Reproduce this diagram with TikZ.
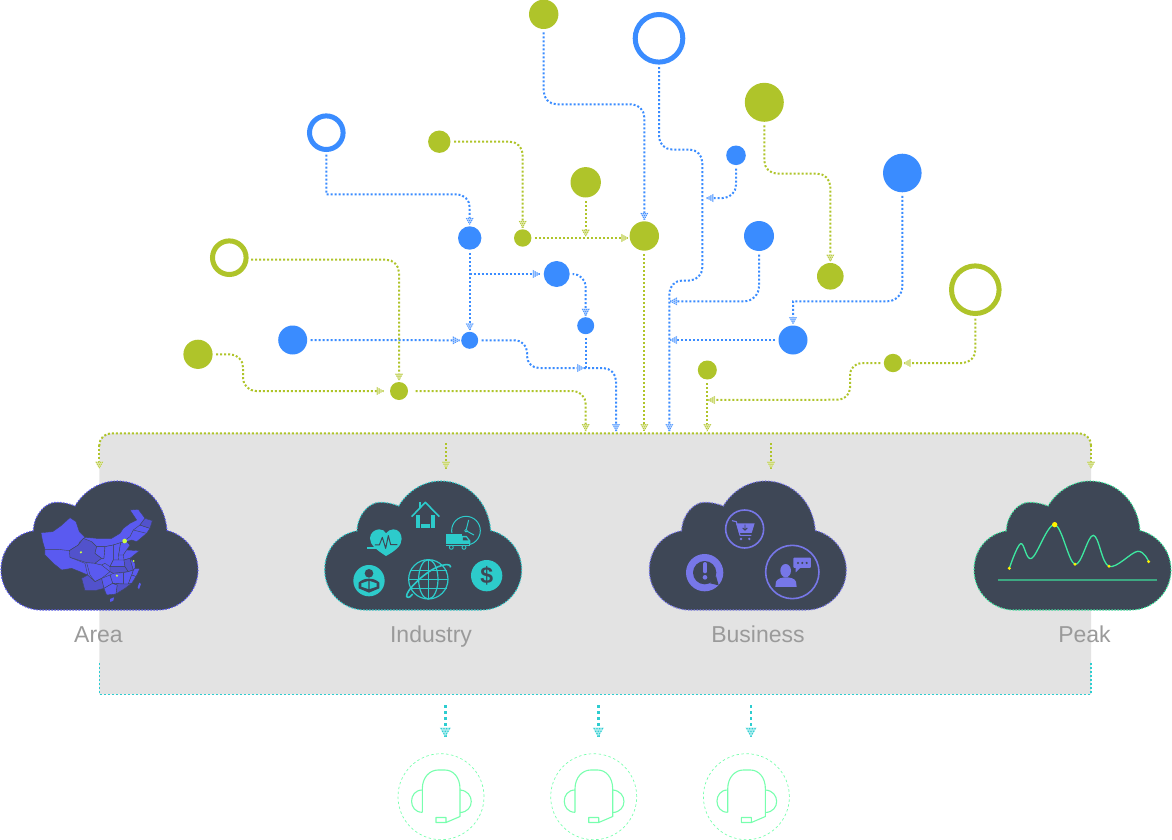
\documentclass[tikz,border=0pt]{standalone}
\usepackage{fontspec}
\setmainfont{Liberation Sans}
\usetikzlibrary{arrows}
\definecolor{cblue}{HTML}{3A8CFF}
\definecolor{cgreen}{HTML}{AFC42A}
\definecolor{cteal}{HTML}{2DCDD0}
\definecolor{tblue}{HTML}{B4D2FF}
\definecolor{tgreen}{HTML}{E0E8A8}
\definecolor{tteal}{HTML}{A8ECEE}
\definecolor{cdark}{HTML}{3E4756}
\definecolor{cgrey}{HTML}{E3E3E3}
\definecolor{clab}{HTML}{9A9A9A}
\definecolor{cind}{HTML}{2DCBCB}
\definecolor{cbiz}{HTML}{7777E8}
\definecolor{cpeak}{HTML}{3DE8A0}
\definecolor{cmap}{HTML}{5A5AF0}
\definecolor{cmapd}{HTML}{5252CC}
\definecolor{cmint}{HTML}{78FFAE}
\definecolor{cyell}{HTML}{CCFF44}
\newcommand\tipdot[2]{\pgfpathcircle{\pgfpoint{#1pt}{#2pt}}{.6pt}}
\newcommand\mktip[4]{%
  \pgfarrowsdeclare{#1}{#1}{\pgfarrowsleftextend{-7pt}\pgfarrowsrightextend{0pt}}{%
    \pgftransformscale{#4}%
    \pgfsetfillcolor{#3}%
    \pgfpathmoveto{\pgfpoint{0pt}{0pt}}\pgfpathlineto{\pgfpoint{-7pt}{4.2pt}}\pgfpathlineto{\pgfpoint{-7pt}{-4.2pt}}\pgfpathclose\pgfusepathqfill
    \pgfsetfillcolor{#2}%
    \tipdot{-6.2}{-3}\tipdot{-6.2}{-1}\tipdot{-6.2}{1}\tipdot{-6.2}{3}%
    \tipdot{-4.2}{-2}\tipdot{-4.2}{0}\tipdot{-4.2}{2}%
    \tipdot{-2.4}{-1}\tipdot{-2.4}{1}%
    \tipdot{-.7}{0}%
    \pgfusepathqfill}}
\mktip{dtb}{cblue}{tblue}{1}
\mktip{dtg}{cgreen}{tgreen}{1}
\mktip{dtt}{cteal}{tteal}{1.35}
\newcommand\cloudblob[2]{%
  \begin{scope}[shift={(#1,0)}]
  \filldraw[fill=cdark,draw=#2,line width=1.1pt,dash pattern=on 1.5pt off 1.5pt]
    (41,610) .. controls (19,610) and (1,592) .. (1,570)
    .. controls (1,549) and (15,534) .. (33.3,530.8)
    .. controls (34,514) and (46,502.3) .. (56,502.3)
    .. controls (64,502.3) and (70,504) .. (75,506)
    .. controls (84,491) and (100,481) .. (117,481)
    .. controls (145,481) and (165,503) .. (167,530.5)
    .. controls (185,535) and (198,551) .. (198,570)
    .. controls (198,592) and (180,610) .. (158,610) -- cycle;
  \end{scope}}
\newcommand\headset[2]{%
  \node[hsring] (#2) at (#1,796.7) {};
  \begin{scope}[shift={(#1-441,0)}]
  \draw[hsline] (422.3,812.3) -- (422.3,789) .. controls (422.3,777) and (430,770) .. (438,770)
     -- (445,770) .. controls (453,770) and (460,777) .. (460,789) -- (460,816.5) -- (446,822.5) -- (436,822.5) -- (436,817.5) -- (446,817.5) -- (446,822.5);
  \draw[hsline] (422.3,790) .. controls (408,790) and (408,812.3) .. (422.3,812.3);
  \draw[hsline] (460,790) .. controls (475,791) and (475,812) .. (460,812.5);
  \end{scope}}
\tikzset{
  blob/.style={circle,inner sep=0pt,outer sep=1.5pt,minimum size=#1},
  bd/.style={blob=#1,fill=cblue},
  gd/.style={blob=#1,fill=cgreen},
  br/.style={blob=#1,draw=cblue,line width=5pt,outer sep=3pt},
  gr/.style={blob=#1,draw=cgreen,line width=5pt,outer sep=3pt},
  wire/.style={line width=2pt,dash pattern=on 2pt off 2pt,rounded corners=13pt},
  bwire/.style={wire,draw=cblue},
  gwire/.style={wire,draw=cgreen},
  bw/.style={bwire,shorten <=2pt,-dtb},
  gw/.style={gwire,shorten <=2pt,-dtg},
  tw/.style={line width=2.6pt,draw=cteal,dash pattern=on 2.6pt off 3.4pt,-dtt},
  hsring/.style={circle,inner sep=0pt,minimum size=86pt,draw=cmint,line width=.7pt,dash pattern=on 2.5pt off 2.5pt},
  hsline/.style={draw=cmint,line width=1.1pt,line join=round},
  lab/.style={anchor=base,text=clab,font=\fontsize{23}{23}\selectfont},
  prov/.style={fill=cmap,draw=cdark,line width=.4pt,line join=round},
  provd/.style={fill=cmapd,draw=cdark,line width=.4pt,line join=round},
}
\begin{document}
\begin{tikzpicture}[x=1pt,y=-1pt]
\useasboundingbox (0,0) rectangle (1172,840);
% grey panel
\fill[cgrey] (99.3,694.3) -- (99.3,446) .. controls (99.3,438) and (104,433.3) .. (112,433.3)
  -- (1078,433.3) .. controls (1086,433.3) and (1091,438) .. (1091,446) -- (1091,694.3) -- cycle;
% circles
\node[gd=29.4pt] (a1) at (543.7,14.3) {};
\node[br=47.6pt] (a2) at (659,38.3) {};
\node[gd=39pt] (a3) at (764.3,102.3) {};
\node[br=33.6pt] (a4) at (326.3,132.7) {};
\node[gd=22.4pt] (a5) at (439.3,141.7) {};
\node[bd=19.6pt] (a6) at (736,155.3) {};
\node[bd=38.6pt] (a7) at (902.3,173) {};
\node[gd=30.4pt] (a8) at (585.7,182.3) {};
\node[gd=29.4pt] (hub) at (644.3,236) {};
\node[gd=17.4pt] (a10) at (522.7,238) {};
\node[bd=23.4pt] (a11) at (469.7,238) {};
\node[bd=30pt] (a12) at (759,236) {};
\node[gr=33.6pt] (a13) at (229.3,257.7) {};
\node[gd=26.6pt] (a14) at (830.3,276.3) {};
\node[gr=47.6pt] (a15) at (975.3,289.7) {};
\node[bd=26pt] (a16) at (556.7,274) {};
\node[bd=17pt] (a17) at (585.7,325.7) {};
\node[bd=29pt] (a18) at (292.7,340) {};
\node[bd=17pt] (a19) at (469.7,340.3) {};
\node[bd=29pt] (a20) at (793,340) {};
\node[gd=29.2pt] (a21) at (198,354.3) {};
\node[gd=18.4pt] (a22) at (893,363) {};
\node[gd=19pt] (a23) at (707.3,370) {};
\node[gd=18pt] (a24) at (399,391) {};
% free ends
\coordinate (trunkA) at (669.3,431);
\coordinate (ldA) at (616,431);
\coordinate (ldB) at (585.7,431);
\coordinate (ldC) at (644.3,431);
\coordinate (ldD) at (707.3,431);
\coordinate (tap1) at (706.5,198);
\coordinate (tap2) at (670,301.3);
\coordinate (tap3) at (670,340);
\coordinate (tap4) at (708,400);
\coordinate (tap5) at (585.7,236.5);
\coordinate (fork) at (469.7,274);
\coordinate (merge) at (584,368);
\coordinate (busL) at (99.3,468.5);
\coordinate (busR) at (1091,468.5);
% blue wires
\draw[bw] (a1.south) -- (a1.south |- 0,104.3) -- (hub.north |- 0,104.3) -- (hub.north);
\draw[bw] (a2.south) -- (a2.south |- 0,149.5) -- (702.3,149.5) -- (702.3,280.5) -- (669.3,280.5) -- (trunkA);
\draw[bw] (a6.south) -- (a6.south |- tap1) -- (tap1);
\draw[bw,rounded corners=15pt] (a7.south) -- (a7.south |- 0,301.3) [sharp corners] -- (a20.north |- 0,301.3) -- (a20.north);
\draw[bw,rounded corners=15pt] (a12.south) -- (a12.south |- tap2) -- (tap2);
\draw[bw] (a20.west) -- (tap3);
\draw[bw,sharp corners] (a4.south) -- (a4.south |- 0,194.3) [rounded corners=13pt] -- (a11.north |- 0,194.3) -- (a11.north);
\draw[bw] (a11.south) -- (a19.north);
\draw[bw,shorten <=0pt,shorten >=2.5pt] (fork) -- (a16.west);
\draw[bw] (a16.east) -- (a17.north |- a16.east) -- (a17.north);
\draw[bwire,shorten <=2pt] (a17.south) -- (a17.south |- merge);
\draw[bw,rounded corners=12pt] (a19.east) -- (527,340.3) -- (527,368) -- (merge);
\draw[bwire,-dtb] (merge) -- (ldA |- merge) -- (ldA);
\draw[bw] (a18.east) -- (a19.west);
% green wires
\draw[gw] (a3.south) -- (a3.south |- 0,173.7) -- (a14.north |- 0,173.7) -- (a14.north);
\draw[gw] (a15.south) -- (a15.south |- a22) -- (a22.east);
\draw[gw,rounded corners=12pt] (a22.west) -- (850,363) -- (850,399.7) -- (tap4);
\draw[gw] (a23.south) -- (ldD);
\draw[gw] (hub.south) -- (ldC);
\draw[gw] (a5.east) -- (a10.north |- a5.east) -- (a10.north);
\draw[gw] (a8.south) -- (tap5);
\draw[gw] (a10.east) -- (a10.east -| hub.west);
\draw[gw] (a13.east |- 0,259.7) -- (a24.north |- 0,259.7) -- (a24.north);
\draw[gw,shorten >=5pt] (a21.east) -- (243,354.3) -- (243,391) -- (a24.west);
\draw[gw,shorten <=6pt] (a24.east) -- (ldB |- a24.east) -- (ldB);
% bus along top of panel
\draw[gwire,-dtg] (99.3,445) -- (busL);
\draw[gwire,rounded corners=12pt] (99.3,446) -- (99.3,433.3) -- (1091,433.3) -- (1091,446);
\draw[gwire,-dtg] (1091,445) -- (busR);
\coordinate (s1) at (446,443); \coordinate (e1) at (446,468.5);
\coordinate (s2) at (771,443); \coordinate (e2) at (771,468.5);
\draw[gwire,-dtg] (s1) -- (e1);
\draw[gwire,-dtg] (s2) -- (e2);
% lower dashed frame
\draw[cteal,line width=1.4pt,dash pattern=on 2pt off 2pt] (99.3,663) -- (99.3,694.3) -- (1091,694.3) -- (1091,663);
% clouds
\cloudblob{0}{cmap}
\cloudblob{323.7}{cind}
\cloudblob{648.3}{cbiz}
\cloudblob{973}{cpeak}
% labels
\node[lab] (lArea) at (98.5,642) {Area};
\node[lab] (lInd) at (431,642) {Industry};
\node[lab] (lBiz) at (758,642) {Business};
\node[lab] (lPeak) at (1084.5,642) {Peak};
% map of Area cloud
\begin{scope}[shift={(30,500)},x=.3333pt,y=-.3333pt]
\path[prov] (33,98) -- (68,95) -- (92,78) -- (120,53) -- (138,65) -- (148,95) -- (165,112) -- (200,115) -- (245,115) -- (270,100) -- (280,85) -- (300,70) -- (320,60) -- (300,30) -- (325,28) -- (345,55) -- (367,62) -- (360,85) -- (350,100) -- (320,125) -- (305,120) -- (290,125) -- (300,135) -- (290,150) -- (328,152) -- (300,175) -- (315,190) -- (315,205) -- (330,205) -- (318,230) -- (305,250) -- (285,265) -- (258,282) -- (230,285) -- (220,265) -- (195,272) -- (165,272) -- (155,235) -- (173,225) -- (150,215) -- (125,205) -- (95,210) -- (70,190) -- (45,165) -- (45,148) -- (38,125) -- cycle;
\draw[cdark,line width=.4pt,line join=round] (45,148) -- (85,148) -- (118,152) -- (145,135) -- (150,125) -- (165,112);
\draw[cdark,line width=.4pt,line join=round] (120,172) -- (165,190) -- (173,225);
\draw[cdark,line width=.4pt,line join=round] (200,140) -- (225,140) -- (250,135) -- (275,128) -- (300,110) -- (310,90) -- (330,75) -- (345,55);
\draw[cdark,line width=.4pt,line join=round] (310,90) -- (350,100);
\draw[cdark,line width=.4pt,line join=round] (330,75) -- (360,85);
\path[provd] (118,152) -- (145,135) -- (160,115) -- (185,125) -- (200,140) -- (195,160) -- (215,175) -- (195,190) -- (170,188) -- (120,172) -- cycle;
\path[prov] (170,188) -- (195,190) -- (215,195) -- (240,215) -- (215,235) -- (195,245) -- (180,225) -- cycle;
\path[provd] (155,235) -- (173,225) -- (195,245) -- (215,235) -- (222,265) -- (195,272) -- (165,272) -- cycle;
\path[provd] (345,55) -- (367,62) -- (360,85) -- (330,75) -- cycle;
\path[prov] (200,140) -- (225,140) -- (222,175) -- (215,175) -- (195,160) -- cycle;
\path[prov] (225,140) -- (250,135) -- (250,180) -- (240,200) -- (225,190) -- (215,195) -- (195,190) -- (215,175) -- (222,175) -- cycle;
\path[prov] (250,135) -- (272,128) -- (266,165) -- (265,180) -- (250,180) -- cycle;
\path[prov] (272,128) -- (290,125) -- (300,135) -- (290,150) -- (280,165) -- (266,165) -- cycle;
\path[prov] (280,165) -- (290,150) -- (328,152) -- (300,175) -- (282,180) -- cycle;
\path[prov] (250,180) -- (282,180) -- (285,200) -- (240,200) -- cycle;
\path[provd] (240,200) -- (285,200) -- (295,215) -- (250,220) -- (240,215) -- cycle;
\path[provd] (282,180) -- (300,175) -- (310,210) -- (295,215) -- (285,200) -- cycle;
\path[prov] (300,175) -- (315,190) -- (315,205) -- (310,210) -- cycle;
\path[prov] (310,210) -- (315,205) -- (330,205) -- (318,230) -- (305,225) -- cycle;
\path[prov] (295,215) -- (310,210) -- (305,225) -- (295,252) -- (280,252) -- (280,218) -- cycle;
\path[prov] (305,225) -- (318,230) -- (305,250) -- (295,252) -- cycle;
\path[prov] (250,220) -- (280,218) -- (280,252) -- (248,250) -- (240,225) -- cycle;
\path[prov] (215,235) -- (240,225) -- (248,250) -- (222,265) -- cycle;
\path[prov] (222,265) -- (248,250) -- (262,255) -- (258,282) -- (230,285) -- cycle;
\path[provd] (262,255) -- (248,250) -- (280,252) -- (295,252) -- (305,250) -- (285,265) -- (258,282) -- cycle;
\fill[cmap] (240,297) -- (252,292) -- (250,302) -- (241,306) -- cycle;
\fill[cmap] (328,248) -- (333,252) -- (327,268) -- (323,262) -- cycle;
\fill[cyell] (284,123) circle (7);
\fill[cyell] (153,157) circle (3.5);
\fill[cyell] (311,183) circle (3);
\fill[cyell] (261,227) circle (3.5);
\end{scope}
% Industry icons
\begin{scope}[shift={(320,440)},x=.3333pt,y=-.3333pt,line join=round]
\draw[cind,line width=1.6pt] (275,230) -- (316,187) -- (358,230);
\fill[cind] (297,187) rectangle (303,205);
\fill[cind] (289,225) rectangle (300,265);
\fill[cind] (334,225) rectangle (345,265);
\fill[cind] (303,252) rectangle (331,264);
\fill[cind] (198,348) .. controls (170,330) and (150,315) .. (150,295) .. controls (150,278) and (165,268) .. (178,268) .. controls (188,268) and (195,273) .. (198,280) .. controls (202,273) and (212,268) .. (220,268) .. controls (235,268) and (245,280) .. (245,297) .. controls (245,318) and (225,333) .. (198,348) -- cycle;
\draw[cdark,line width=1pt] (165,315) -- (178,315) -- (187,292) -- (197,325) -- (205,287) -- (212,314) -- (232,314);
\fill[cind] (142,320) rectangle (172,326);
\draw[cind,line width=1pt] (438,272) circle (43);
\fill[cdark] (372,278) rectangle (446,333);
\draw[cind,line width=1pt] (438,272) -- (446,240);
\draw[cind,line width=1pt] (438,272) -- (462,285);
\filldraw[fill=cdark,draw=cind,line width=.8pt] (438,272) circle (4);
\fill[cind] (378,282) rectangle (425,312);
\fill[cind] (425,288) -- (440,288) -- (451,302) -- (451,312) -- (425,312) -- cycle;
\fill[cdark] (429,292) -- (438,292) -- (445,301) -- (429,301) -- cycle;
\fill[cind] (378,314) rectangle (451,318);
\filldraw[fill=cdark,draw=cind,line width=.9pt] (394,322) circle (6);
\filldraw[fill=cdark,draw=cind,line width=.9pt] (432,322) circle (6);
\fill[cind] (147,422) circle (47);
\fill[cdark] (147,400) circle (13);
\fill[cdark] (116,428) .. controls (130,412) and (164,412) .. (178,428) -- (178,445) -- (147,458) -- (116,445) -- cycle;
\fill[cind] (124,430) -- (145,423) -- (145,447) -- (124,440) -- cycle;
\fill[cind] (149,423) -- (170,430) -- (170,440) -- (149,447) -- cycle;
\draw[cind,line width=1.2pt] (325,418) circle (59);
\draw[cind,line width=1.2pt] (325,418) ellipse (29 and 59);
\draw[cind,line width=1.2pt] (325,359) -- (325,477);
\draw[cind,line width=1.2pt] (270,392) -- (380,392);
\draw[cind,line width=1.2pt] (266,418) -- (384,418);
\draw[cind,line width=1.2pt] (270,445) -- (380,445);
\draw[cind,line width=1.6pt] (392,382) .. controls (392,370) and (375,372) .. (350,382) .. controls (310,400) and (255,455) .. (260,470) .. controls (265,476) and (275,468) .. (278,462);
\fill[cind] (500,407) circle (47);
\node[text=cdark,font=\fontsize{23}{23}\selectfont\bfseries,inner sep=0pt] (dollar) at (500,407) {\$};
\end{scope}
% Business icons
\begin{scope}[shift={(640,440)},x=.3333pt,y=-.3333pt,line join=round]
\draw[cbiz,line width=1.6pt] (314,267) circle (57);
\draw[cbiz,line width=1.1pt] (276,242) -- (289,245) -- (300,286) -- (334,286);
\fill[cbiz] (288,250) -- (344,250) -- (335,279) -- (297,279) -- cycle;
\draw[cdark,line width=.9pt] (315,254) -- (315,270) (308,264) -- (315,271) -- (322,264);
\fill[cbiz] (303,297) circle (4);
\fill[cbiz] (328,297) circle (4);
\fill[cbiz] (194,398) circle (56);
\fill[cdark] (194,398) circle (35);
\fill[cdark] (210,430) -- (236,436) -- (228,408) -- cycle;
\draw[cbiz,line width=4pt,line cap=round] (195,372) -- (195,394);
\fill[cbiz] (195,412) circle (7);
\draw[cbiz,line width=1.6pt] (457,396) circle (80);
\fill[cbiz] (437,392) ellipse (16 and 20);
\fill[cbiz] (406,441) -- (408,425) .. controls (412,415) and (428,412) .. (438,412) .. controls (450,412) and (464,415) .. (468,425) -- (470,441) -- cycle;
\fill[cbiz,rounded corners=1pt] (460,353) rectangle (513,384);
\fill[cbiz] (467,382) -- (467,397) -- (483,382) -- cycle;
\fill[cdark] (474,369) circle (3.5);
\fill[cdark] (487,369) circle (3.5);
\fill[cdark] (500,369) circle (3.5);
\end{scope}
% Peak chart
\begin{scope}[shift={(960,425)},x=.3333pt,y=-.3333pt]
\draw[cpeak!60!cdark,line width=1.2pt] (113,465) -- (590,465);
\draw[cpeak,line width=1.3pt] plot[smooth,tension=.6] coordinates {(148,430) (182,356) (215,400) (284,299) (345,418) (400,331) (447,424) (533,379) (566,410)};
\fill[yellow] (148,430) circle (5);
\fill[yellow] (284,299) circle (8);
\fill[yellow] (345,418) circle (5);
\fill[yellow] (447,424) circle (5);
\fill[yellow] (566,410) circle (5);
\end{scope}
% teal arrows
\coordinate (t1s) at (445.3,705); \coordinate (t1e) at (445.3,737);
\coordinate (t2s) at (598.3,705); \coordinate (t2e) at (598.3,737);
\coordinate (t3s) at (751,705); \coordinate (t3e) at (751,737);
\draw[tw] (t1s) -- (t1e);
\draw[tw] (t2s) -- (t2e);
\draw[tw] (t3s) -- (t3e);
% headsets
\headset{441}{h1}
\headset{593.7}{h2}
\headset{746.4}{h3}
\end{tikzpicture}
\end{document}
